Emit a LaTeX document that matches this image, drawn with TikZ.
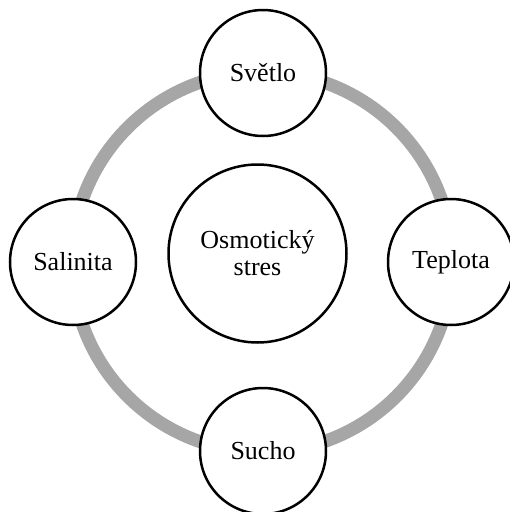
\documentclass[tikz,border=0pt]{standalone}
\usepackage{fontspec}
\setmainfont{Liberation Serif}
\definecolor{ringgray}{RGB}{166,166,166}

\begin{document}
\begin{tikzpicture}[x=1pt,y=-1pt,
						every node/.style={font=\fontsize{26}{27}\selectfont},
						factor/.style={circle,draw,fill=white,
						line width=2.5pt,minimum size=126pt,inner sep=0pt},
						core/.style={factor,minimum size=178pt,align=center}]

		\useasboundingbox (0,0) rectangle (510,512);

		% outer ring
		\draw[ringgray,line width=13pt] (262,262) circle[radius=190];

		\node [core] (stres) at (257.5,253.5) {Osmotický\\stres};

		\node [factor] (svetlo)   at (263,73)  {Světlo};
		\node [factor] (teplota)  at (451,262) {Teplota};
		\node [factor] (sucho)    at (263,451) {Sucho};
		\node [factor] (salinita) at (73,262)  {Salinita};

	\end{tikzpicture}
\end{document}
